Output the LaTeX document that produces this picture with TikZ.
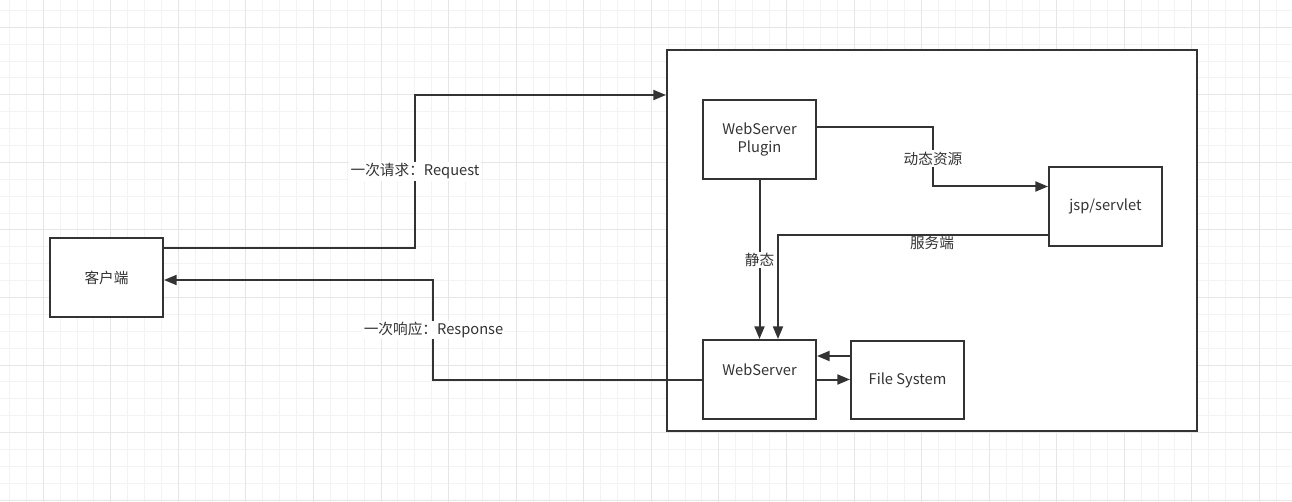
\documentclass[tikz,border=0pt]{standalone}
\usepackage{fontspec}
\setmainfont{Noto Sans CJK SC}
\usetikzlibrary{arrows.meta}
\definecolor{ink}{HTML}{333333}
\definecolor{gridminor}{HTML}{F3F3F3}
\definecolor{gridmajor}{HTML}{E6E6E6}
\tikzset{
  box/.style={draw=ink, line width=1.5pt, fill=white, minimum width=84.75pt, minimum height=59.25pt, inner sep=0pt, align=center, text=ink, font=\fontsize{11pt}{13.5pt}\selectfont},
  txt/.style={text=ink, inner sep=1pt, align=center, font=\fontsize{11pt}{13.5pt}\selectfont},
  lbl/.style={txt, fill=white},
  conn/.style={draw=ink, line width=1.5pt},
  arr/.style={conn, -{Triangle[length=9.5pt,width=7.5pt]}},
  gminor/.style={draw=gridminor, line width=0.75pt},
  gmajor/.style={draw=gridmajor, line width=0.75pt}
}
\begin{document}
\begin{tikzpicture}[x=0.75pt,y=-0.75pt]
\useasboundingbox (0,0) rectangle (1292,502);
\fill[white] (0,0) rectangle (1292,502);
% grid
\foreach \i in {0,...,77} {
  \pgfmathsetmacro\xx{9.5+16.89*\i}
  \draw[gminor] (\xx,0) -- (\xx,502);
}
\foreach \i in {0,...,30} {
  \pgfmathsetmacro\yy{10.4+16.89*\i}
  \draw[gminor] (0,\yy) -- (1292,\yy);
}
\foreach \i in {0,...,19} {
  \pgfmathsetmacro\xx{43.3+67.56*\i}
  \draw[gmajor] (\xx,0) -- (\xx,502);
}
\foreach \i in {0,...,7} {
  \pgfmathsetmacro\yy{27.3+67.56*\i}
  \draw[gmajor] (0,\yy) -- (1292,\yy);
}
% container
\node[box, minimum width=397.5pt, minimum height=285.75pt] (cont) at (932,240.5) {};
% boxes
\node[box] (client) at (106.5,277.5) {客户端};
\node[box] (plugin) at (759.5,139.5) {WebServer\\Plugin};
\node[box] (jsp) at (1105.5,206.5) {jsp/servlet};
\node[box] (ws) at (759.5,379.5) {};
\node[txt] (wst) at (759.5,370) {WebServer};
\node[box, minimum height=58.5pt] (fs) at (907.5,380) {File System};
% connectors
\draw[arr] (client.east |- 0,248) -- (415,248) -- (415,95) -- (cont.west |- 0,95);
\node[lbl] (reql) at (415,171.5) {一次请求：Request};
\draw[arr] (ws.west |- 0,379.5) -- (433,379.5) -- (433,280) -- (client.east |- 0,280);
\node[lbl] (resl) at (433.5,330) {一次响应：Response};
\draw[arr] (plugin.east |- 0,127) -- (933,127) -- (933,186.5) -- (jsp.west |- 0,186.5);
\node[lbl] (dynl) at (933,158.5) {动态资源};
\draw[arr] (plugin.south) -- (ws.north);
\node[lbl] (stal) at (759.5,260) {静态};
\draw[arr] (jsp.west |- 0,235) -- (778,235) -- (ws.north -| 778,0);
\node[txt] (srvl) at (932,242.5) {服务端};
\draw[arr] (fs.west |- 0,356) -- (ws.east |- 0,356);
\draw[arr] (ws.east |- 0,379.5) -- (fs.west |- 0,379.5);
\end{tikzpicture}
\end{document}
